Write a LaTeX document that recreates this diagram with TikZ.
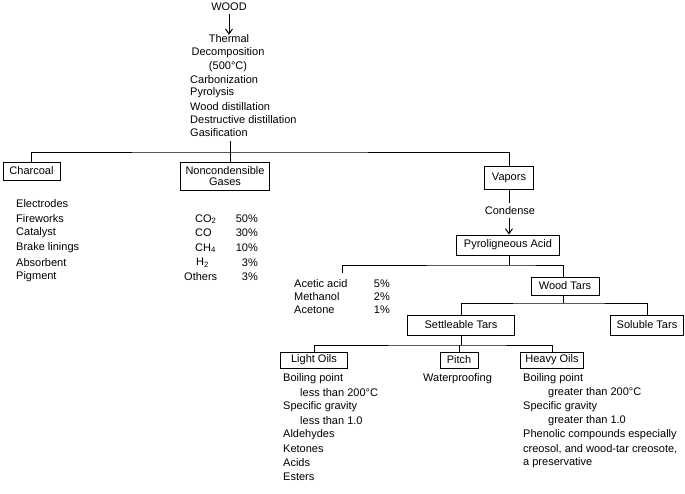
\documentclass[tikz,border=0pt]{standalone}
\usepackage{fontspec}
\setmainfont{Liberation Sans}
\usetikzlibrary{arrows.meta}
\begin{document}
\begin{tikzpicture}[x=1pt,y=-1pt,
  every node/.style={font=\fontsize{11}{13}\selectfont},
  txt/.style={inner sep=0pt, anchor=west},
  ctxt/.style={inner sep=0pt},
  rtxt/.style={inner sep=0pt, anchor=east},
  box/.style={draw, line width=0.9pt, inner sep=0pt, align=center},
  conn/.style={line width=1pt},
  arr/.style={line width=1pt, -{Straight Barb[length=5pt,width=7pt]}}]
\useasboundingbox (0,0) rectangle (685,493);
% top
\node[ctxt] (wood) at (229,7) {WOOD};
\node[ctxt] (thermal) at (229,39) {Thermal};
\node[ctxt] (decomp) at (228,53) {Decomposition};
\node[ctxt] (temp) at (228,67) {(500°C)};
\node[txt] (carb) at (190,80) {Carbonization};
\node[txt] (pyrol) at (190,93) {Pyrolysis};
\node[txt] (wdist) at (190,107) {Wood distillation};
\node[txt] (ddist) at (190,120) {Destructive distillation};
\node[txt] (gasif) at (190,133) {Gasification};
\draw[arr] (wood.south) ++(0,3) coordinate (w1) (w1) -- (thermal.north);
\coordinate (t1) at (230,141);
\coordinate (j1) at (230,152);
% level 1 boxes
\node[box, minimum width=57pt, minimum height=18pt] (ch) at (31.5,171) {Charcoal};
\node[box, minimum width=89pt, minimum height=28pt] (gas) at (225,176) {Noncondensible\\[-2pt]Gases};
\node[box, minimum width=49pt, minimum height=23pt] (vap) at (509,178) {Vapors};
\draw[conn] (t1) -- (j1);
\draw[conn] (ch.north) |- (j1) -| (vap.north);
\draw[conn] (j1) -- (j1 |- gas.north);
% charcoal list
\node[txt] (c1) at (16,204) {Electrodes};
\node[txt] (c2) at (16,219) {Fireworks};
\node[txt] (c3) at (16,233) {Catalyst};
\node[txt] (c4) at (16,248) {Brake linings};
\node[txt] (c5) at (16,263) {Absorbent};
\node[txt] (c6) at (16,277) {Pigment};
% gases list
\node[txt] (g1) at (195,219) {CO\textsubscript{2}};
\node[txt] (g2) at (195,233) {CO};
\node[txt] (g3) at (195,248) {CH\textsubscript{4}};
\node[txt] (g4) at (196,263) {H\textsubscript{2}};
\node[txt] (g5) at (184,277) {Others};
\node[rtxt] (p1) at (258,219) {50\%};
\node[rtxt] (p2) at (258,233) {30\%};
\node[rtxt] (p3) at (258,248) {10\%};
\node[rtxt] (p4) at (258,263) {3\%};
\node[rtxt] (p5) at (258,277) {3\%};
% vapors -> pyroligneous
\node[ctxt] (cond) at (510,211) {Condense};
\node[box, minimum width=103pt, minimum height=20pt] (pyro) at (508,245) {Pyroligneous Acid};
\coordinate (v1) at (509,203);
\draw[conn] (vap.south) -- (v1);
\draw[arr] (509,218) coordinate (v2) (v2) -- (pyro.north -| v2);
% pyroligneous children
\coordinate (j2) at (509,265);
\coordinate (a1) at (342,273);
\node[box, minimum width=68pt, minimum height=18pt] (wt) at (565,286) {Wood Tars};
\draw[conn] (pyro.south -| j2) -- (j2);
\draw[conn] (a1) |- (j2) -| (wt.north -| 563,0);
\node[txt] (aa) at (294,284) {Acetic acid};
\node[txt] (me) at (294,297) {Methanol};
\node[txt] (ac) at (294,310) {Acetone};
\node[rtxt] (aap) at (390,284) {5\%};
\node[rtxt] (mep) at (390,297) {2\%};
\node[rtxt] (acp) at (390,310) {1\%};
% wood tars children
\coordinate (j3) at (563,303);
\node[box, minimum width=107pt, minimum height=20pt] (st) at (461,325) {Settleable Tars};
\node[box, minimum width=73pt, minimum height=20pt] (sol) at (647,325) {Soluble Tars};
\draw[conn] (wt.south -| j3) -- (j3);
\draw[conn] (st.north) |- (j3) -| (sol.north);
% settleable children
\coordinate (j4) at (461,345);
\node[box, minimum width=67pt, minimum height=16pt] (lo) at (314,360) {Light Oils};
\node[box, minimum width=38pt, minimum height=16pt] (pi) at (459,360) {Pitch};
\node[box, minimum width=63pt, minimum height=16pt] (ho) at (552,360) {Heavy Oils};
\draw[conn] (st.south) -- (j4);
\draw[conn] (lo.north) |- (j4) -| (ho.north);
\draw[conn] (j4 -| pi.north) -- (pi.north);
% light oils list
\node[txt] (l1) at (283,379) {Boiling point};
\node[txt] (l2) at (300,393) {less than 200°C};
\node[txt] (l3) at (283,407) {Specific gravity};
\node[txt] (l4) at (300,421) {less than 1.0};
\node[txt] (l5) at (283,435) {Aldehydes};
\node[txt] (l6) at (283,449) {Ketones};
\node[txt] (l7) at (283,463) {Acids};
\node[txt] (l8) at (283,477) {Esters};
% pitch
\node[txt] (wp) at (423,379) {Waterproofing};
% heavy oils list
\node[txt] (h1) at (523,379) {Boiling point};
\node[txt] (h2) at (548,393) {greater than 200°C};
\node[txt] (h3) at (523,407) {Specific gravity};
\node[txt] (h4) at (548,421) {greater than 1.0};
\node[txt] (h5) at (523,435) {Phenolic compounds especially};
\node[txt] (h6) at (523,449) {creosol, and wood-tar creosote,};
\node[txt] (h7) at (523,463) {a preservative};
\end{tikzpicture}
\end{document}
